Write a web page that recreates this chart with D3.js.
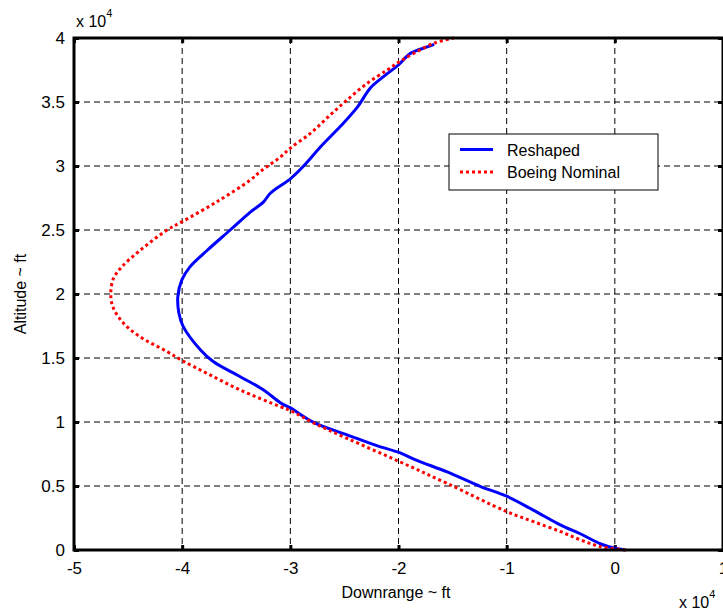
<!DOCTYPE html>
<html>
<head>
<meta charset="utf-8">
<script src="https://cdn.jsdelivr.net/npm/d3@7"></script>
<style>
  body { margin: 0; background: #fff; }
  text { font-family: Arial, "Liberation Sans", sans-serif; fill: #000; }
</style>
</head>
<body>
<div id="chart"></div>
<script>
// values in units of 10^4 ft
const reshapedDownrange = [0.10, 0.0, -0.13, -0.315, -0.50, -0.75, -1.0, -1.24, -1.55, -1.83, -1.99, -2.20, -2.475, -2.78, -3.0, -3.093, -3.247, -3.463, -3.71, -3.83, -3.99, -4.03, -4.04, -4.003, -3.93, -3.77, -3.556, -3.37, -3.247, -3.185, -3.0, -2.877, -2.72, -2.537, -2.38, -2.26, -2.136, -2.0, -1.89, -1.735, -1.67];
const reshapedAltitude  = [0.0, 0.013, 0.047, 0.125, 0.195, 0.31, 0.42, 0.495, 0.61, 0.70, 0.76, 0.815, 0.90, 0.995, 1.11, 1.151, 1.25, 1.354, 1.47, 1.5625, 1.745, 1.85, 1.98, 2.11, 2.21, 2.34, 2.5, 2.64, 2.72, 2.787, 2.90, 3.0, 3.15, 3.31, 3.46, 3.61, 3.70, 3.79, 3.88, 3.93, 3.95];

const nominalDownrange = [0.10, -0.13, -0.315, -0.5, -0.747, -1.0, -1.55, -1.99, -2.475, -2.78, -3.0, -3.093, -3.463, -3.77, -4.0, -4.14, -4.39, -4.54, -4.636, -4.66, -4.636, -4.56, -4.39, -4.14, -4.0, -3.68, -3.37, -3.28, -3.093, -3.0, -2.815, -2.63, -2.475, -2.29, -2.105, -2.0, -1.86, -1.67, -1.49];
const nominalAltitude  = [0.0, 0.026, 0.078, 0.143, 0.22, 0.30, 0.52, 0.69, 0.872, 0.99, 1.09, 1.12, 1.25, 1.38, 1.48, 1.55, 1.666, 1.77, 1.89, 1.99, 2.12, 2.21, 2.34, 2.5, 2.565, 2.72, 2.89, 2.955, 3.07, 3.14, 3.255, 3.40, 3.516, 3.646, 3.75, 3.81, 3.88, 3.96, 4.0];

const xTicks = [-5, -4, -3, -2, -1, 0, 1];
const yTicks = [0, 0.5, 1, 1.5, 2, 2.5, 3, 3.5, 4];
const legendNames = ["Reshaped", "Boeing Nominal"];

const W = 723, H = 613;
const mLeft = 74, mRight = 723, mTop = 38, mBottom = 550;

const svg = d3.select("#chart").append("svg")
    .attr("width", W).attr("height", H);

const x = d3.scaleLinear().domain([-5, 1]).range([mLeft, mRight]);
const y = d3.scaleLinear().domain([0, 4]).range([mBottom, mTop]);

// grid
svg.append("g").selectAll("line").data(xTicks.slice(1, -1)).join("line")
    .attr("x1", d => x(d)).attr("x2", d => x(d))
    .attr("y1", mTop).attr("y2", mBottom)
    .attr("stroke", "#000").attr("stroke-width", 1).attr("stroke-dasharray", "6,4");
svg.append("g").selectAll("line").data(yTicks.slice(1, -1)).join("line")
    .attr("y1", d => y(d)).attr("y2", d => y(d))
    .attr("x1", mLeft).attr("x2", mRight)
    .attr("stroke", "#000").attr("stroke-width", 1).attr("stroke-dasharray", "6,4");

// axes (ticks inward), plain hyphen for minus like the original
const fmt = d => String(d);
svg.append("g").attr("transform", `translate(0,${mBottom})`)
    .call(d3.axisBottom(x).tickValues(xTicks).tickSize(-5).tickPadding(12).tickFormat(fmt))
    .call(g => g.select(".domain").remove());
svg.append("g").attr("transform", `translate(0,${mTop})`)
    .call(d3.axisTop(x).tickValues(xTicks).tickSize(-5).tickFormat(""))
    .call(g => g.select(".domain").remove());
svg.append("g").attr("transform", `translate(${mLeft},0)`)
    .call(d3.axisLeft(y).tickValues(yTicks).tickSize(-5).tickPadding(9).tickFormat(fmt))
    .call(g => g.select(".domain").remove());
svg.append("g").attr("transform", `translate(${mRight},0)`)
    .call(d3.axisRight(y).tickValues(yTicks).tickSize(-5).tickFormat(""))
    .call(g => g.select(".domain").remove());
svg.selectAll(".tick line").attr("stroke", "#000").attr("stroke-width", 3);
svg.selectAll(".tick text").style("font-size", "17px")
    .style("font-family", "Arial, 'Liberation Sans', sans-serif");

// curves
const line = d3.line().x(d => x(d[0])).y(d => y(d[1])).curve(d3.curveCatmullRom.alpha(0.5));
const reshaped = d3.zip(reshapedDownrange, reshapedAltitude);
const nominal = d3.zip(nominalDownrange, nominalAltitude);

svg.append("path").datum(reshaped).attr("d", line)
    .attr("fill", "none").attr("stroke", "#0000ff").attr("stroke-width", 3);
svg.append("path").datum(nominal).attr("d", line)
    .attr("fill", "none").attr("stroke", "#ff0000").attr("stroke-width", 3)
    .attr("stroke-dasharray", "3,3");

// box
svg.append("path")
    .attr("d", `M${mRight},${mTop}H${mLeft}V${mBottom}H${mRight}Z`)
    .attr("fill", "none").attr("stroke", "#000").attr("stroke-width", 3);

// exponent labels
const e1 = svg.append("text").attr("x", 76).attr("y", 27).style("font-size", "16px");
e1.append("tspan").text("x 10");
e1.append("tspan").attr("dy", -10).style("font-size", "11px").text("4");
const e2 = svg.append("text").attr("x", 679).attr("y", 608).style("font-size", "16px");
e2.append("tspan").text("x 10");
e2.append("tspan").attr("dy", -10).style("font-size", "11px").text("4");

// axis labels
svg.append("text").attr("x", (mLeft + 722) / 2 - 2).attr("y", 598)
    .attr("text-anchor", "middle").style("font-size", "16px").text("Downrange ~ ft");
svg.append("text").attr("transform", `translate(26,${(mTop + mBottom) / 2}) rotate(-90)`)
    .attr("text-anchor", "middle").style("font-size", "16px").text("Altitude ~ ft");

// legend
const lg = svg.append("g").attr("transform", "translate(449,134)");
lg.append("rect").attr("width", 209).attr("height", 56)
    .attr("fill", "#fff").attr("stroke", "#000").attr("stroke-width", 1);
const styles = [{ c: "#0000ff", dash: null }, { c: "#ff0000", dash: "3,3" }];
legendNames.forEach((name, i) => {
  const yy = 15.5 + i * 22.5;
  lg.append("line").attr("x1", 11).attr("x2", 44).attr("y1", yy).attr("y2", yy)
      .attr("stroke", styles[i].c).attr("stroke-width", 3)
      .attr("stroke-dasharray", styles[i].dash);
  lg.append("text").attr("x", 58).attr("y", yy + 6).style("font-size", "16px").text(name);
});
</script>
</body>
</html>
